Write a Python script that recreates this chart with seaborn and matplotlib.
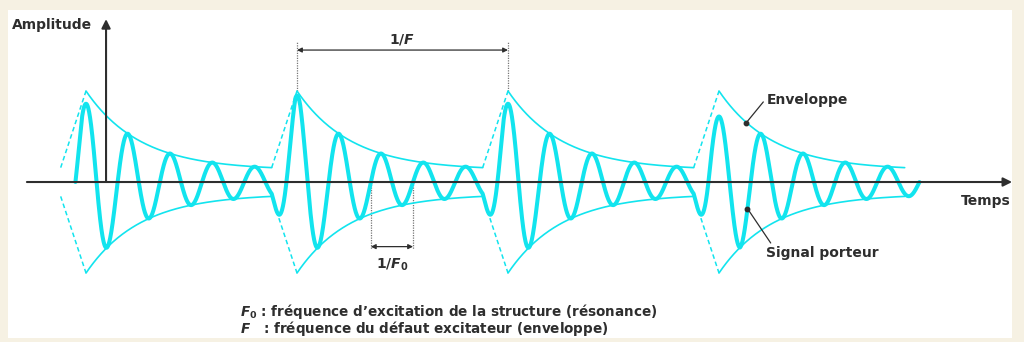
import numpy as np
import pandas as pd
import matplotlib
matplotlib.use("Agg")
import matplotlib.pyplot as plt
from matplotlib.patches import Rectangle
import seaborn as sns

# Time in units of the envelope period 1/F, amplitude relative to the envelope peak.
burst_starts = [0.0, 1.0, 2.0, 3.0]          # instants of excitation (multiples of 1/F)
carrier_period = 0.2                          # 1/F0 : five carrier cycles per envelope period
first_peak_amp = [0.86, 0.95, 0.86, 0.72]     # height of the first carrier lobe of each burst
env_peak = 1.0                                # envelope maximum at each excitation
env_floor = 0.13                              # level the decay tends towards
env_tau = 0.256                               # decay time constant
decay_len = 0.88                              # duration of the decaying part (solid)
ramp_len = 0.12                               # duration of the rising part (dashed)
signal_span = [-0.05, 3.95]                   # carrier drawn between these instants

CYAN = "#12e4ee"
INK = "#2e2e2e"
BEIGE = "#f6f1e3"
FS = 10

sns.set_theme(style="white")
plt.rcParams["font.family"] = ["DejaVu Sans"]
plt.rcParams["mathtext.fontset"] = "custom"
plt.rcParams["mathtext.it"] = "DejaVu Sans:italic:bold"
plt.rcParams["mathtext.rm"] = "DejaVu Sans:bold"


def decay(u):
    return env_floor + (env_peak - env_floor) * np.exp(-u / env_tau)


env_end = decay(decay_len)


def envelope(t):
    out = np.empty_like(t)
    cap = np.empty_like(t)
    for i, ti in enumerate(t):
        k = int(np.clip(np.floor(ti + ramp_len), 0, len(burst_starts) - 1))
        u = ti - burst_starts[k]
        if u < 0:
            out[i] = env_end + (env_peak - env_end) * (1 + u / ramp_len)
        else:
            out[i] = decay(u)
        cap[i] = first_peak_amp[k]
    return np.minimum(out, cap)


# carrier signal
t = np.linspace(signal_span[0], signal_span[1], 4000)
sig = envelope(t) * np.cos(2 * np.pi * t / carrier_period)
carrier = pd.DataFrame({"t": t, "a": sig})

# envelope pieces: solid decays and dashed rises
solid_rows, dash_rows = [], []
for k, t0 in enumerate(burst_starts):
    u = np.linspace(0, decay_len, 200)
    for sgn in (1, -1):
        solid_rows.append(pd.DataFrame({"t": t0 + u, "a": sgn * decay(u), "seg": f"{k}{sgn}"}))
        dash_rows.append(pd.DataFrame({"t": [t0 - ramp_len, t0],
                                       "a": [sgn * env_end, sgn * env_peak],
                                       "seg": f"{k}{sgn}"}))
solid_env = pd.concat(solid_rows, ignore_index=True)
dash_env = pd.concat(dash_rows, ignore_index=True)

fig = plt.figure(figsize=(10.24, 3.42), dpi=100)
fig.patch.set_facecolor(BEIGE)
fig.add_artist(Rectangle((8 / 1024, 4 / 342), 1004 / 1024, 328 / 342,
                         transform=fig.transFigure, facecolor="white",
                         edgecolor="none", zorder=-5))
ax = fig.add_axes([0, 0, 1, 1])
ax.set_facecolor("none")
ax.set_xlim(-0.4076, 4.4455)
ax.set_ylim(-1.758, 2.0)
ax.axis("off")

sns.lineplot(data=solid_env, x="t", y="a", units="seg", estimator=None, sort=False,
             color=CYAN, lw=1.2, legend=False, ax=ax, zorder=2)
sns.lineplot(data=dash_env, x="t", y="a", units="seg", estimator=None, sort=False,
             color=CYAN, lw=1.1, ls=(0, (3, 2)), legend=False, ax=ax, zorder=2)
sns.lineplot(data=carrier, x="t", y="a", estimator=None, sort=False,
             color=CYAN, lw=2.9, legend=False, ax=ax, zorder=3)

# axes of the diagram
ax.annotate("", xy=(4.389, 0), xytext=(-0.28, 0),
            arrowprops=dict(arrowstyle="-|>", lw=1.5, color=INK, mutation_scale=13,
                            shrinkA=0, shrinkB=0), zorder=4)
ax.annotate("", xy=(0.095, 1.79), xytext=(0.095, 0),
            arrowprops=dict(arrowstyle="-|>", lw=1.5, color=INK, mutation_scale=13,
                            shrinkA=0, shrinkB=0), zorder=4)
ax.text(-0.35, 1.73, "Amplitude", ha="left", va="center", fontsize=FS,
        fontweight="bold", color=INK)
ax.text(4.38, -0.21, "Temps", ha="right", va="center", fontsize=FS,
        fontweight="bold", color=INK)

# 1/F dimension
for x in (burst_starts[1], burst_starts[2]):
    ax.plot([x, x], [1.0, 1.54], color="#777777", lw=0.9, ls=(0, (1, 1)), zorder=1)
ax.annotate("", xy=(burst_starts[2], 1.45), xytext=(burst_starts[1], 1.45),
            arrowprops=dict(arrowstyle="<|-|>", lw=0.9, color=INK, mutation_scale=7,
                            shrinkA=0, shrinkB=0))
ax.text(1.5, 1.57, "1/$F$", ha="center", va="center", fontsize=FS,
        fontweight="bold", color=INK)

# 1/F0 dimension
z0 = 1.35
for x in (z0, z0 + carrier_period):
    ax.plot([x, x], [0, -0.74], color="#777777", lw=0.9, ls=(0, (1, 1)), zorder=1)
ax.annotate("", xy=(z0 + carrier_period, -0.71), xytext=(z0, -0.71),
            arrowprops=dict(arrowstyle="<|-|>", lw=0.9, color=INK, mutation_scale=7,
                            shrinkA=0, shrinkB=0))
ax.text(z0 + carrier_period / 2, -0.91, "1/$F_0$", ha="center", va="center",
        fontsize=FS, fontweight="bold", color=INK)

# callouts
te = 3.13
ye = envelope(np.array([te]))[0]
ax.plot([te, 3.21], [ye, 0.88], color=INK, lw=0.9, zorder=5)
ax.plot([te], [ye], marker="o", ms=3.2, color=INK, zorder=5)
ax.text(3.225, 0.90, "Enveloppe", ha="left", va="center", fontsize=FS,
        fontweight="bold", color=INK)

ts = 3.135
ys = np.interp(ts, t, sig)
ax.plot([ts, 3.245], [ys, -0.67], color=INK, lw=0.9, zorder=5)
ax.plot([ts], [ys], marker="o", ms=3.2, color=INK, zorder=5)
ax.text(3.225, -0.78, "Signal porteur", ha="left", va="center", fontsize=FS,
        fontweight="bold", color=INK)

# legend of symbols
ax.text(0.73, -1.42, "$F_0$ : fréquence d\u2019excitation de la structure (résonance)",
        ha="left", va="center", fontsize=9.75, fontweight="bold", color=INK)
ax.text(0.73, -1.61, "$F$   : fréquence du défaut excitateur (enveloppe)",
        ha="left", va="center", fontsize=9.75, fontweight="bold", color=INK)

fig.savefig("out.png", dpi=100, facecolor=fig.get_facecolor())
